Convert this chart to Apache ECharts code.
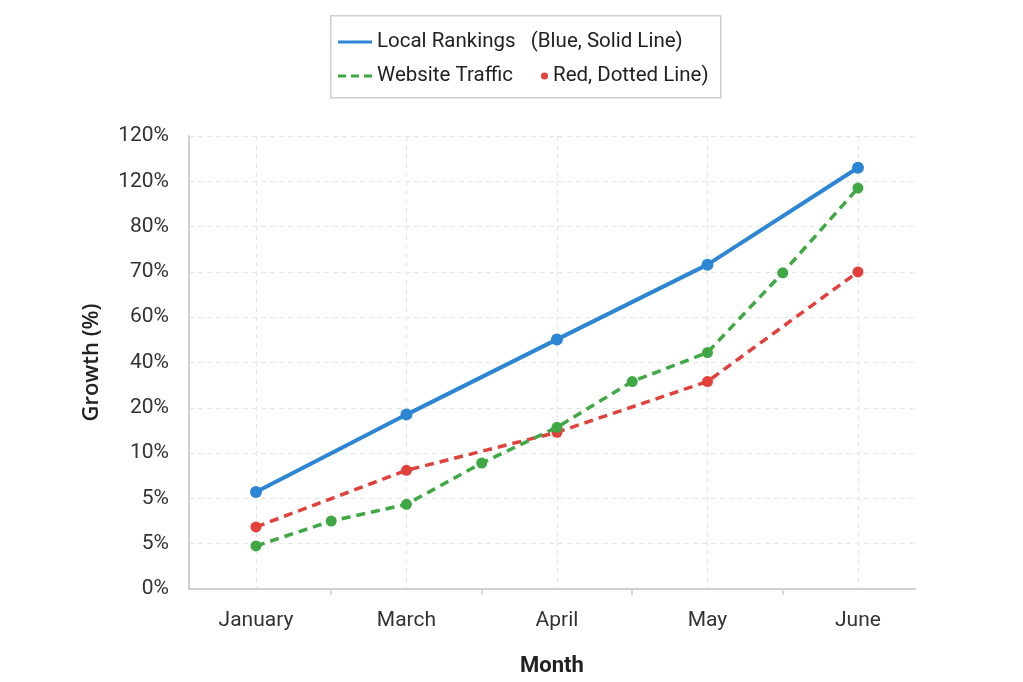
<!DOCTYPE html>
<html><head><meta charset="utf-8">
<script src="https://cdn.jsdelivr.net/npm/echarts@6/dist/echarts.min.js"></script>
<style>html,body{margin:0;padding:0;background:#fff}#c{width:1023px;height:682px}</style>
</head><body><div id="c"></div>
<script>
const months = ['January', 'March', 'April', 'May', 'June'];
const monthPos = [0, 1, 2, 3, 4];
const midPos = [0.5, 1.5, 2.5, 3.5];
const yTickLabels = ['0%', '5%', '5%', '10%', '20%', '40%', '60%', '70%', '80%', '120%', '120%'];

const rankingsName = 'Local Rankings   (Blue, Solid Line)';
const rankingsX = [0, 1, 2, 3, 4];
const rankingsY = [2.14, 3.85, 5.51, 7.16, 9.30];

const trafficName = 'Website Traffic';
const trafficX = [0, 0.5, 1, 1.5, 2, 2.5, 3, 3.5, 4];
const trafficY = [0.95, 1.50, 1.87, 2.78, 3.57, 4.58, 5.22, 6.98, 8.85];

const redName = 'Red, Dotted Line)';
const redX = [0, 1, 2, 3, 4];
const redY = [1.37, 2.62, 3.46, 4.58, 7.00];

const zip = (xs, ys) => xs.map((x, i) => [x, ys[i]]);
const FONT = 'Roboto, "Noto Sans", sans-serif';
const BLUE = '#2d86d4', GREEN = '#3fa845', RED = '#e2403b';

const chart = echarts.init(document.getElementById('c'), null, {renderer: 'canvas'});
const option = {
  backgroundColor: '#ffffff',
  textStyle: {fontFamily: FONT},
  animation: false,
  graphic: [{
    type: 'rect', left: 330, top: 15, z: 0,
    shape: {width: 390, height: 82},
    style: {fill: '#fff', stroke: '#cfcfcf', lineWidth: 1.5}
  }],
  legend: [{
    orient: 'vertical', left: 338, top: 31, itemGap: 12, padding: 0,
    itemWidth: 34, itemHeight: 3,
    textStyle: {fontFamily: FONT, fontSize: 20.5, color: '#222', lineHeight: 22},
    data: [
      {name: rankingsName, icon: 'rect'},
      {name: trafficName, icon: 'path://M0,0H8V3H0Z M13,0H21V3H13Z M26,0H34V3H26Z'}
    ]
  }, {
    left: 541, top: 65, padding: 0,
    itemWidth: 7, itemHeight: 7,
    textStyle: {fontFamily: FONT, fontSize: 20.5, color: '#222', lineHeight: 22},
    data: [{name: redName, icon: 'circle'}]
  }],
  grid: {left: 189, right: 108, top: 136, bottom: 92, containLabel: false},
  xAxis: [{
    type: 'value', min: -0.445, max: 4.379,
    name: 'Month', nameLocation: 'middle', nameGap: 66,
    nameTextStyle: {fontFamily: FONT, fontSize: 22, fontWeight: 'bold', color: '#222'},
    axisLine: {show: true, onZero: false, lineStyle: {color: '#d0d0d0', width: 2}},
    axisTick: {show: false, customValues: monthPos},
    axisLabel: {
      customValues: monthPos, margin: 21, fontSize: 21, color: '#333', fontFamily: FONT,
      formatter: v => months[Math.round(v)]
    },
    splitLine: {show: true, lineStyle: {color: '#e6e6e6', type: [5, 4], width: 1}}
  }, {
    type: 'value', min: -0.445, max: 4.379, position: 'bottom',
    axisLine: {show: false, onZero: false},
    axisTick: {show: true, customValues: midPos, length: 6, lineStyle: {color: '#d0d0d0', width: 1.5}},
    axisLabel: {show: false, customValues: midPos},
    splitLine: {show: false}
  }],
  yAxis: {
    type: 'value', min: 0, max: 10, interval: 1,
    name: 'Growth (%)', nameLocation: 'middle', nameGap: 86, nameRotate: 90,
    nameTextStyle: {fontFamily: '"Open Sans", "Noto Sans", sans-serif', fontSize: 22, fontWeight: 600, color: '#222'},
    axisLine: {show: true, onZero: false, lineStyle: {color: '#d0d0d0', width: 2}},
    axisTick: {show: false},
    axisLabel: {
      margin: 20, fontSize: 21, color: '#333', fontFamily: FONT, padding: [4, 0, 0, 0],
      formatter: v => yTickLabels[Math.round(v)]
    },
    splitLine: {show: true, lineStyle: {color: '#e6e6e6', type: [5, 4], width: 1}}
  },
  series: [{
    name: rankingsName, type: 'line', xAxisIndex: 0,
    data: zip(rankingsX, rankingsY),
    symbol: 'circle', symbolSize: 12,
    itemStyle: {color: BLUE},
    lineStyle: {color: BLUE, width: 4},
    z: 5
  }, {
    name: trafficName, type: 'line', xAxisIndex: 0,
    data: zip(trafficX, trafficY),
    symbol: 'circle', symbolSize: 11,
    itemStyle: {color: GREEN},
    lineStyle: {color: GREEN, width: 3.5, type: [9, 6]},
    z: 4
  }, {
    name: redName, type: 'line', xAxisIndex: 0,
    data: zip(redX, redY),
    symbol: 'circle', symbolSize: 11,
    itemStyle: {color: RED},
    lineStyle: {color: RED, width: 3.5, type: [9, 6]},
    z: 3
  }]
};
chart.setOption(option);
</script>
</body></html>
